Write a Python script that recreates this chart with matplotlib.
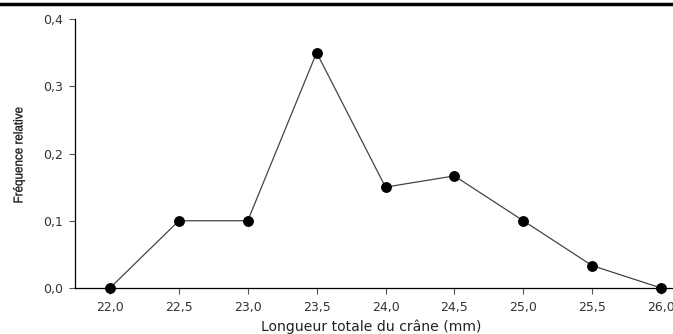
import matplotlib.pyplot as plt
from matplotlib.lines import Line2D
from matplotlib.textpath import TextPath
from matplotlib.patches import PathPatch
from matplotlib.font_manager import FontProperties
from matplotlib.transforms import Affine2D, IdentityTransform

# Longueur totale du crâne (mm) et fréquence relative observée
longueur = [22.0, 22.5, 23.0, 23.5, 24.0, 24.5, 25.0, 25.5, 26.0]
frequence = [0.0, 0.1, 0.1, 0.35, 0.15, 0.1667, 0.1, 0.0333, 0.0]
xticks = [22.0, 22.5, 23.0, 23.5, 24.0, 24.5, 25.0, 25.5, 26.0]
yticks = [0.0, 0.1, 0.2, 0.3, 0.4]

W, H = 673, 334
fig = plt.figure(figsize=(W / 100, H / 100), dpi=100)
ax = fig.add_axes([75 / W, 1 - 288 / H, 1 - 75 / W, (288 - 19) / H])

ax.plot(longueur, frequence, color='#444444', lw=0.9, marker='o', ms=6.8,
        mfc='black', mec='black', clip_on=False, zorder=3)

ax.set_xlim(21.746, 26.087)
ax.set_ylim(0, 0.4)
ax.set_xticks(xticks)
ax.set_xticklabels([f'{v:.1f}'.replace('.', ',') for v in xticks])
ax.set_yticks(yticks)
ax.set_yticklabels([f'{v:.1f}'.replace('.', ',') for v in yticks])

for s in ['top', 'right']:
    ax.spines[s].set_visible(False)
for s in ['left', 'bottom']:
    ax.spines[s].set_linewidth(0.9)

ax.tick_params(axis='x', length=4, width=0.8, color='#555555', pad=5,
               labelsize=9, labelcolor='#333333')
ax.tick_params(axis='y', length=4.5, width=0.8, color='#555555', pad=4,
               labelsize=9, labelcolor='#333333')
for lab in ax.get_xticklabels() + ax.get_yticklabels():
    lab.set_fontfamily('DejaVu Sans')

# titre de l'axe x
fig.text(371 / W, 1 - 331 / H, 'Longueur totale du crâne (mm)', ha='center',
         va='baseline', fontsize=10.1, family='DejaVu Sans', color='#222222')

# titre de l'axe y en caractères étroits (chemin de texte comprimé)
tp = TextPath((0, 0), 'Fréquence relative', size=12.5,
              prop=FontProperties(family='Liberation Sans'))
ext = tp.get_extents()
sx = 95 / ext.width
sy = 12 / ext.height
cx, cy = 19, H - 155
trans = (Affine2D().translate(-(ext.x0 + ext.width / 2), -(ext.y0 + ext.height / 2))
         .scale(sx, sy).rotate_deg(90).translate(cx, cy))
fig.add_artist(PathPatch(trans.transform_path(tp), transform=IdentityTransform(),
                         facecolor='#111111', edgecolor='#111111', lw=0.2))

# trait noir en haut de la figure
fig.add_artist(Line2D([0, 1], [1 - 4 / H, 1 - 4 / H], transform=fig.transFigure,
                      color='black', lw=2.5))

fig.savefig('out.png', dpi=100)
